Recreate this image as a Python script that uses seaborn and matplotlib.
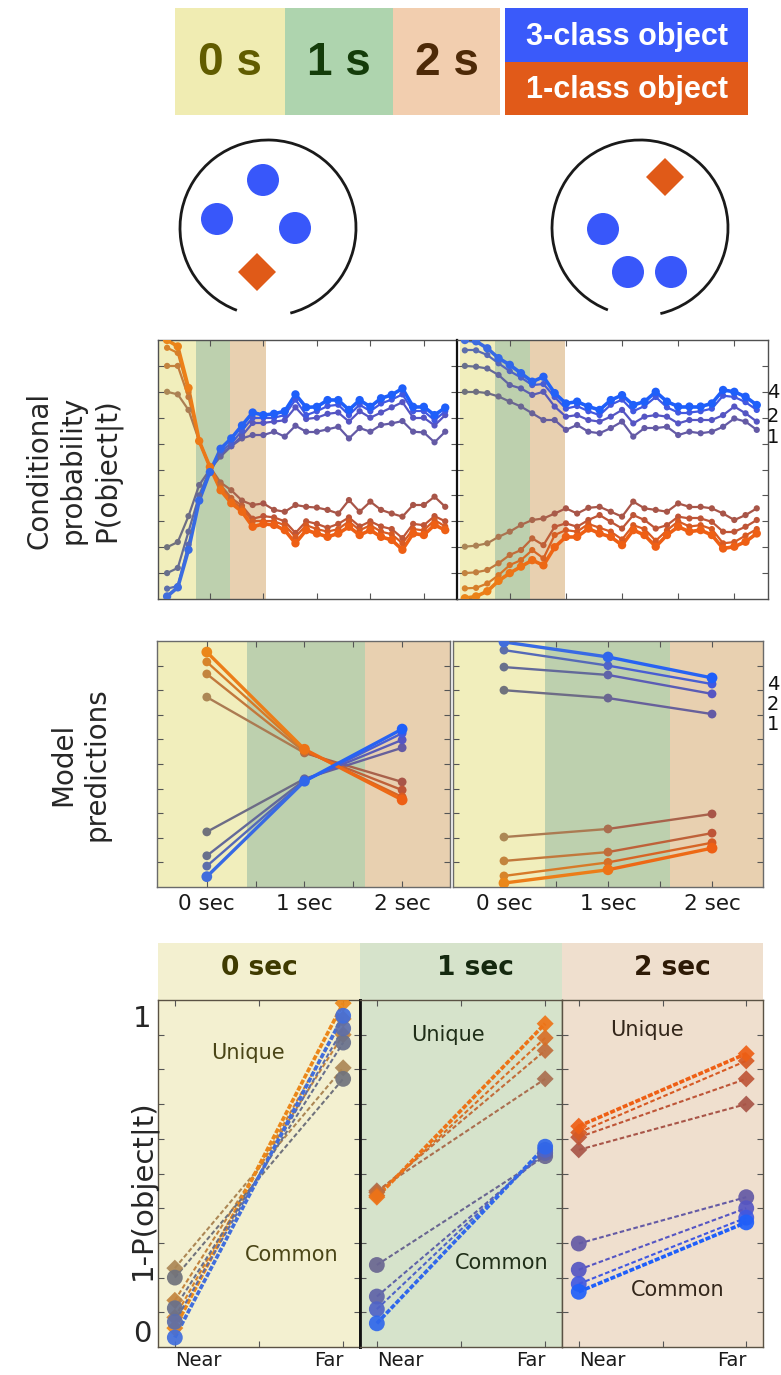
import numpy as np
import pandas as pd
import matplotlib
matplotlib.use("Agg")
import matplotlib.pyplot as plt
import seaborn as sns
from matplotlib.patches import Rectangle, Circle, Arc, RegularPolygon

sns.set_style("ticks")
plt.rcParams["font.family"] = ["DejaVu Sans"]

# ---------------- data ----------------
steps = list(range(27))

# conditional probability, left display (4 lines each, dim -> bright)
cp_left_blue = [
    [0.20, 0.22, 0.32, 0.44, 0.50, 0.55, 0.59, 0.62, 0.633, 0.633, 0.646, 0.627, 0.669, 0.646,
     0.646, 0.655, 0.665, 0.62, 0.66, 0.646, 0.672, 0.678, 0.687, 0.646, 0.643, 0.605, 0.646],
    [0.10, 0.12, 0.26, 0.40, 0.50, 0.56, 0.59, 0.63, 0.68, 0.68, 0.685, 0.69, 0.74, 0.695,
     0.70, 0.715, 0.72, 0.685, 0.725, 0.70, 0.72, 0.74, 0.76, 0.70, 0.70, 0.67, 0.71],
    [0.04, 0.05, 0.21, 0.38, 0.49, 0.57, 0.60, 0.65, 0.70, 0.70, 0.70, 0.71, 0.77, 0.71,
     0.725, 0.745, 0.75, 0.71, 0.75, 0.725, 0.755, 0.77, 0.79, 0.725, 0.725, 0.69, 0.725],
    [0.01, 0.045, 0.19, 0.38, 0.49, 0.58, 0.62, 0.67, 0.72, 0.71, 0.715, 0.725, 0.79, 0.74,
     0.742, 0.768, 0.768, 0.73, 0.768, 0.742, 0.775, 0.788, 0.813, 0.742, 0.742, 0.71, 0.739],
]
cp_left_orange = [
    [0.80, 0.79, 0.73, 0.61, 0.51, 0.45, 0.42, 0.38, 0.363, 0.369, 0.344, 0.337, 0.363, 0.356,
     0.353, 0.344, 0.33, 0.382, 0.337, 0.376, 0.344, 0.33, 0.318, 0.363, 0.363, 0.395, 0.356],
    [0.90, 0.90, 0.78, 0.61, 0.51, 0.44, 0.39, 0.36, 0.31, 0.32, 0.315, 0.30, 0.255, 0.30,
     0.29, 0.275, 0.29, 0.315, 0.28, 0.30, 0.28, 0.27, 0.235, 0.29, 0.285, 0.32, 0.30],
    [0.97, 0.95, 0.80, 0.61, 0.51, 0.43, 0.38, 0.35, 0.30, 0.30, 0.30, 0.285, 0.24, 0.285,
     0.27, 0.26, 0.27, 0.30, 0.265, 0.285, 0.26, 0.25, 0.215, 0.27, 0.265, 0.305, 0.28],
    [1.0, 0.975, 0.815, 0.61, 0.51, 0.42, 0.37, 0.337, 0.279, 0.29, 0.286, 0.266, 0.215, 0.266,
     0.253, 0.24, 0.253, 0.279, 0.247, 0.266, 0.24, 0.228, 0.19, 0.253, 0.247, 0.286, 0.266],
]
# conditional probability, right display
cp_right_blue = [
    [0.80, 0.80, 0.795, 0.782, 0.762, 0.743, 0.717, 0.691, 0.691, 0.653, 0.672, 0.646, 0.64, 0.66,
     0.685, 0.627, 0.66, 0.66, 0.665, 0.633, 0.646, 0.64, 0.646, 0.665, 0.697, 0.685, 0.653],
    [0.90, 0.897, 0.89, 0.865, 0.826, 0.813, 0.788, 0.80, 0.743, 0.704, 0.71, 0.691, 0.685, 0.704,
     0.73, 0.678, 0.704, 0.71, 0.704, 0.678, 0.691, 0.691, 0.691, 0.71, 0.743, 0.717, 0.685],
    [0.96, 0.96, 0.942, 0.91, 0.88, 0.855, 0.826, 0.83, 0.78, 0.735, 0.745, 0.725, 0.71, 0.75,
     0.77, 0.725, 0.745, 0.78, 0.74, 0.72, 0.72, 0.725, 0.735, 0.785, 0.78, 0.76, 0.73],
    [1.0, 0.995, 0.968, 0.93, 0.904, 0.872, 0.839, 0.858, 0.795, 0.755, 0.762, 0.743, 0.73, 0.768,
     0.787, 0.749, 0.762, 0.80, 0.762, 0.743, 0.743, 0.743, 0.755, 0.807, 0.80, 0.781, 0.749],
]
cp_right_orange = [
    [0.202, 0.206, 0.215, 0.24, 0.26, 0.286, 0.305, 0.311, 0.33, 0.35, 0.33, 0.352, 0.356, 0.337,
     0.318, 0.376, 0.35, 0.344, 0.337, 0.369, 0.356, 0.356, 0.35, 0.33, 0.305, 0.324, 0.35],
    [0.10, 0.103, 0.112, 0.138, 0.17, 0.189, 0.234, 0.208, 0.279, 0.292, 0.279, 0.305, 0.324, 0.298,
     0.272, 0.324, 0.305, 0.272, 0.285, 0.318, 0.311, 0.311, 0.298, 0.26, 0.26, 0.279, 0.305],
    [0.041, 0.043, 0.06, 0.092, 0.131, 0.15, 0.189, 0.157, 0.247, 0.266, 0.26, 0.29, 0.275, 0.26,
     0.23, 0.285, 0.27, 0.225, 0.265, 0.30, 0.28, 0.285, 0.27, 0.215, 0.22, 0.245, 0.27],
    [0.003, 0.01, 0.03, 0.07, 0.10, 0.125, 0.15, 0.13, 0.20, 0.24, 0.24, 0.272, 0.253, 0.24,
     0.208, 0.266, 0.247, 0.202, 0.247, 0.279, 0.26, 0.266, 0.247, 0.195, 0.202, 0.221, 0.253],
]

# model predictions at 0, 1, 2 sec
model_t = [0, 1, 2]
model_labels = ["0 sec", "1 sec", "2 sec"]
mp_left_blue = [[0.224, 0.44, 0.566], [0.127, 0.435, 0.598], [0.085, 0.43, 0.625], [0.042, 0.43, 0.642]]
mp_left_orange = [[0.772, 0.545, 0.427], [0.866, 0.55, 0.394], [0.915, 0.555, 0.366], [0.955, 0.56, 0.354]]
mp_right_blue = [[0.80, 0.768, 0.703], [0.894, 0.862, 0.785], [0.963, 0.90, 0.825], [0.996, 0.935, 0.85]]
mp_right_orange = [[0.203, 0.236, 0.297], [0.106, 0.142, 0.219], [0.045, 0.10, 0.18], [0.016, 0.07, 0.158]]

# 1-P(object|t), near vs far, per time window
dist_labels = ["Near", "Far"]
windows = ["0 sec", "1 sec", "2 sec"]
near_orange = [[0.20, 0.098, 0.044, 0.01], [0.445, 0.44, 0.43, 0.425], [0.575, 0.615, 0.63, 0.65]]
far_orange = [[0.835, 0.94, 0.99, 1.04], [0.80, 0.89, 0.93, 0.975], [0.72, 0.80, 0.857, 0.88]]
near_blue = [[0.17, 0.073, 0.03, -0.02], [0.21, 0.11, 0.07, 0.025], [0.278, 0.195, 0.15, 0.125]]
far_blue = [[0.80, 0.915, 0.96, 1.0], [0.555, 0.565, 0.575, 0.585], [0.425, 0.39, 0.36, 0.345]]

# ---------------- styles ----------------
blue_start = [(112, 114, 124), (104, 112, 140), (92, 110, 170), (65, 110, 220)]
blue_end = [(100, 90, 165), (85, 85, 195), (65, 88, 225), (30, 95, 250)]
orange_start = [(172, 135, 85), (195, 132, 62), (215, 132, 42), (235, 135, 25)]
orange_end = [(168, 85, 72), (190, 85, 55), (215, 90, 35), (238, 95, 20)]

YEL, GRN, TAN = "#F1EEBC", "#BDD0AE", "#E8D0B0"


def mix(c0, c1, f):
    f = min(1.0, max(0.0, f))
    return tuple(((1 - f) * a + f * b) / 255 for a, b in zip(c0, c1))


def gradient_series(ax, xs, ys, c0, c1, ramp, lw, size):
    n = len(xs)
    fr = [ramp(x) for x in xs]
    rows = []
    for i in range(n - 1):
        rows.append((xs[i], ys[i], i))
        rows.append((xs[i + 1], ys[i + 1], i))
    seg = pd.DataFrame(rows, columns=["x", "y", "seg"])
    seg_cols = [mix(c0, c1, (fr[i] + fr[i + 1]) / 2) for i in range(n - 1)]
    sns.lineplot(data=seg, x="x", y="y", hue="seg", palette=seg_cols, estimator=None,
                 sort=False, legend=False, lw=lw, ax=ax, zorder=2, solid_capstyle="round")
    pts = pd.DataFrame({"x": xs, "y": ys, "k": range(n)})
    sns.scatterplot(data=pts, x="x", y="y", hue="k", palette=[mix(c0, c1, f) for f in fr],
                    s=size, edgecolor="none", legend=False, ax=ax, zorder=3)


def frame(ax, col="#505050", lw=1.0):
    for s in ax.spines.values():
        s.set_color(col)
        s.set_linewidth(lw)
    ax.tick_params(which="both", direction="in", length=4, width=0.8, color="#555555",
                   top=True, right=True, labelleft=False, labelbottom=False)
    ax.set_xlabel("")
    ax.set_ylabel("")


W, H = 781, 1375


def px_axes(x0, y0, x1, y1, **kw):
    return fig.add_axes([x0 / W, 1 - y1 / H, (x1 - x0) / W, (y1 - y0) / H], **kw)


fig = plt.figure(figsize=(7.81, 13.75), dpi=100)

# ---------------- top illustration ----------------
ax_bg = fig.add_axes([0, 0, 1, 1], zorder=0)
ax_bg.set_xlim(0, W)
ax_bg.set_ylim(H, 0)
ax_bg.axis("off")

for label, x0, x1, fc, tc in [("0 s", 175, 285, "#F0ECB2", "#615C00"),
                              ("1 s", 285, 393, "#AED4AE", "#143C0A"),
                              ("2 s", 393, 500, "#F2CEAF", "#4E2A08")]:
    ax_bg.add_patch(Rectangle((x0, 8), x1 - x0, 107, color=fc, lw=0))
    ax_bg.text((x0 + x1) / 2, 63, label, ha="center", va="center", fontsize=33,
               fontweight="bold", color=tc, family="Liberation Sans")
ax_bg.add_patch(Rectangle((505, 8), 243, 54, color="#3A5AFA", lw=0))
ax_bg.add_patch(Rectangle((505, 62), 243, 53, color="#E15A19", lw=0))
ax_bg.text(627, 37, "3-class object", ha="center", va="center", fontsize=22,
           fontweight="bold", color="white", family="Liberation Sans")
ax_bg.text(627, 90, "1-class object", ha="center", va="center", fontsize=22,
           fontweight="bold", color="white", family="Liberation Sans")

# displays: open circle with three circles and one diamond
for cx, t1, t2, dots, dia in [(268, 110.7, 435.3, [(263, 180), (217, 219), (295, 228)], (257, 272)),
                              (640, 111.4, 436.6, [(603, 229), (628, 272), (671, 272)], (665, 177))]:
    ax_bg.add_patch(Arc((cx, 228), 176, 176, theta1=t1, theta2=t2, color="#1A1A1A", lw=2))
    for d in dots:
        ax_bg.add_patch(Circle(d, 16, color="#3857FA", lw=0))
    ax_bg.add_patch(RegularPolygon(dia, 4, radius=19, color="#E05A18", lw=0))

# ---------------- conditional probability ----------------
cp_specs = [
    (px_axes(158, 340, 457, 599), cp_left_blue, cp_left_orange, (-0.85, 27.1),
     [(-0.85, 2.7, YEL), (2.7, 5.9, GRN), (5.9, 9.2, TAN)]),
    (px_axes(457, 340, 768, 599), cp_right_blue, cp_right_orange, (-0.7, 27.0),
     [(-0.45, 2.7, YEL), (2.7, 5.8, GRN), (5.8, 8.9, TAN)]),
]
for ax, blues, oranges, xl, bands in cp_specs:
    for a, b, c in bands:
        ax.axvspan(a, b, color=c, lw=0, zorder=0)
    for k in range(4):
        lw = 2.6 if k == 3 else 1.6
        sz = 36 if k == 3 else 20
        gradient_series(ax, steps, oranges[k], orange_start[k], orange_end[k], lambda x: x / 9, lw, sz)
        gradient_series(ax, steps, blues[k], blue_start[k], blue_end[k], lambda x: x / 9, lw, sz)
    ax.set_xlim(*xl)
    ax.set_ylim(0, 1)
    ax.set_xticks([4, 9, 14, 19, 24])
    ax.set_yticks(np.arange(0.1, 0.95, 0.1))
    frame(ax)
cp_specs[1][0].spines["left"].set_color("#111111")
cp_specs[1][0].spines["left"].set_linewidth(1.6)

# ---------------- model predictions ----------------
mp_specs = [
    (px_axes(157, 641, 450, 887), mp_left_blue, mp_left_orange, (-0.51, 2.49),
     [(-0.51, 0.41, YEL), (0.41, 1.62, GRN), (1.62, 2.49, TAN)]),
    (px_axes(453, 641, 763, 887), mp_right_blue, mp_right_orange, (-0.49, 2.49),
     [(-0.49, 0.39, YEL), (0.39, 1.6, GRN), (1.6, 2.49, TAN)]),
]
for ax, blues, oranges, xl, bands in mp_specs:
    for a, b, c in bands:
        ax.axvspan(a, b, color=c, lw=0, zorder=0)
    for k in range(4):
        lw = 2.4 if k == 3 else 1.7
        sz = 60 if k == 3 else 40
        gradient_series(ax, model_t, oranges[k], orange_start[k], orange_end[k], lambda x: x / 2, lw, sz)
        gradient_series(ax, model_t, blues[k], blue_start[k], blue_end[k], lambda x: x / 2, lw, sz)
    ax.set_xlim(*xl)
    ax.set_ylim(0, 1)
    ax.set_xticks(model_t)
    ax.set_xticks([0.5, 1.5], minor=True)
    ax.set_yticks(np.arange(0.1, 0.95, 0.1))
    frame(ax, col="#6A6A6A")
    ax.tick_params(axis="x", which="major", labelbottom=True, labelsize=15.5, pad=5, labelcolor="#1A1A1A")
    ax.set_xticklabels(model_labels)

for yy, lab in [(393, "4"), (416, "2"), (438, "1"), (685, "4"), (705, "2"), (725, "1")]:
    fig.text(767 / W, 1 - yy / H, lab, ha="left", va="center", fontsize=14, color="#111111")

fig.text(73 / W, 1 - 470 / H, "Conditional\nprobability\nP(object|t)", rotation=90,
         ha="center", va="center", fontsize=20, linespacing=1.25, multialignment="center")
fig.text(80 / W, 1 - 764 / H, "Model\npredictions", rotation=90,
         ha="center", va="center", fontsize=20, linespacing=1.25, multialignment="center")

# ---------------- near / far panels ----------------
panel_bg = ["#F3F0D0", "#D6E3CB", "#EFDFCE"]
head_col = ["#3F3A00", "#15290F", "#2E1A06"]
word_col = ["#4A4516", "#1F2E18", "#33261A"]
panel_x = [(158, 360), (360, 562), (562, 763)]
head_tx = [259, 475, 672]
unique_xy = [(248, 1053), (448, 1035), (647, 1030)]
common_xy = [(292, 1255), (502, 1263), (678, 1290)]
frame_ticks = np.linspace(-0.05, 1.05, 11)[1:-1]

for p in range(3):
    x0, x1 = panel_x[p]
    ax_bg.add_patch(Rectangle((x0, 943), x1 - x0, 57, color=panel_bg[p], lw=0))
    ax_bg.text(head_tx[p], 968, windows[p], ha="center", va="center", fontsize=19,
               fontweight="bold", color=head_col[p])
    ax = px_axes(x0, 1000, x1, 1347)
    ax.set_facecolor(panel_bg[p])
    f = p / 2
    for k in range(4):
        c = mix(orange_start[k], orange_end[k], f)
        lw, ls = (2.6, (0, (1.4, 0.5))) if k == 3 else (1.5, (0, (2.2, 1.2)))
        sns.lineplot(x=[0, 1], y=[near_orange[p][k], far_orange[p][k]], color=c, lw=lw,
                     linestyle=ls, ax=ax, zorder=2)
        sns.scatterplot(x=[0, 1], y=[near_orange[p][k], far_orange[p][k]], color=c, marker="D",
                        s=75, edgecolor="none", alpha=0.92, ax=ax, zorder=3)
    for k in range(4):
        c = mix(blue_start[k], blue_end[k], f)
        lw, ls = (2.6, (0, (1.4, 0.5))) if k == 3 else (1.5, (0, (2.2, 1.2)))
        sns.lineplot(x=[0, 1], y=[near_blue[p][k], far_blue[p][k]], color=c, lw=lw,
                     linestyle=ls, ax=ax, zorder=2)
        sns.scatterplot(x=[0, 1], y=[near_blue[p][k], far_blue[p][k]], color=c, marker="o",
                        s=130, edgecolor="none", alpha=0.92, ax=ax, zorder=3)
    ax.set_xlim(-0.1, 1.1)
    ax.set_ylim(-0.05, 1.05)
    ax.set_xticks([0, 1])
    ax.set_xticks([0.5], minor=True)
    ax.set_yticks([0, 1])
    ax.set_yticks(frame_ticks, minor=True)
    frame(ax, col="#5A5244")
    ax.tick_params(axis="y", which="major", length=0)
    ax.tick_params(axis="x", which="major", labelbottom=True, labelsize=14, pad=3,
                   labelcolor="#1A1A1A")
    near_lab, far_lab = ax.set_xticklabels(dist_labels)
    near_lab.set_ha("left")
    near_lab.set_x(-0.12)
    far_lab.set_ha("right")
    far_lab.set_x(1.05)
    if p == 0:
        ax.tick_params(axis="y", which="major", labelleft=True, labelsize=21, pad=5)
        ax.set_yticklabels(["0", "1"])
        ax.spines["right"].set_color("#111111")
        ax.spines["right"].set_linewidth(2)
    if p == 1:
        ax.spines["left"].set_color("#111111")
        ax.spines["left"].set_linewidth(2)
    ax.text(*unique_xy[p], "Unique", transform=ax_bg.transData, ha="center", va="center",
            fontsize=15, color=word_col[p], zorder=5)
    ax.text(*common_xy[p], "Common", transform=ax_bg.transData, ha="center", va="center",
            fontsize=15, color=word_col[p], zorder=5)

fig.text(143 / W, 1 - 1190 / H, "1-P(object|t)", rotation=90, ha="center", va="center",
         fontsize=21)

fig.savefig("out.png", dpi=100)
